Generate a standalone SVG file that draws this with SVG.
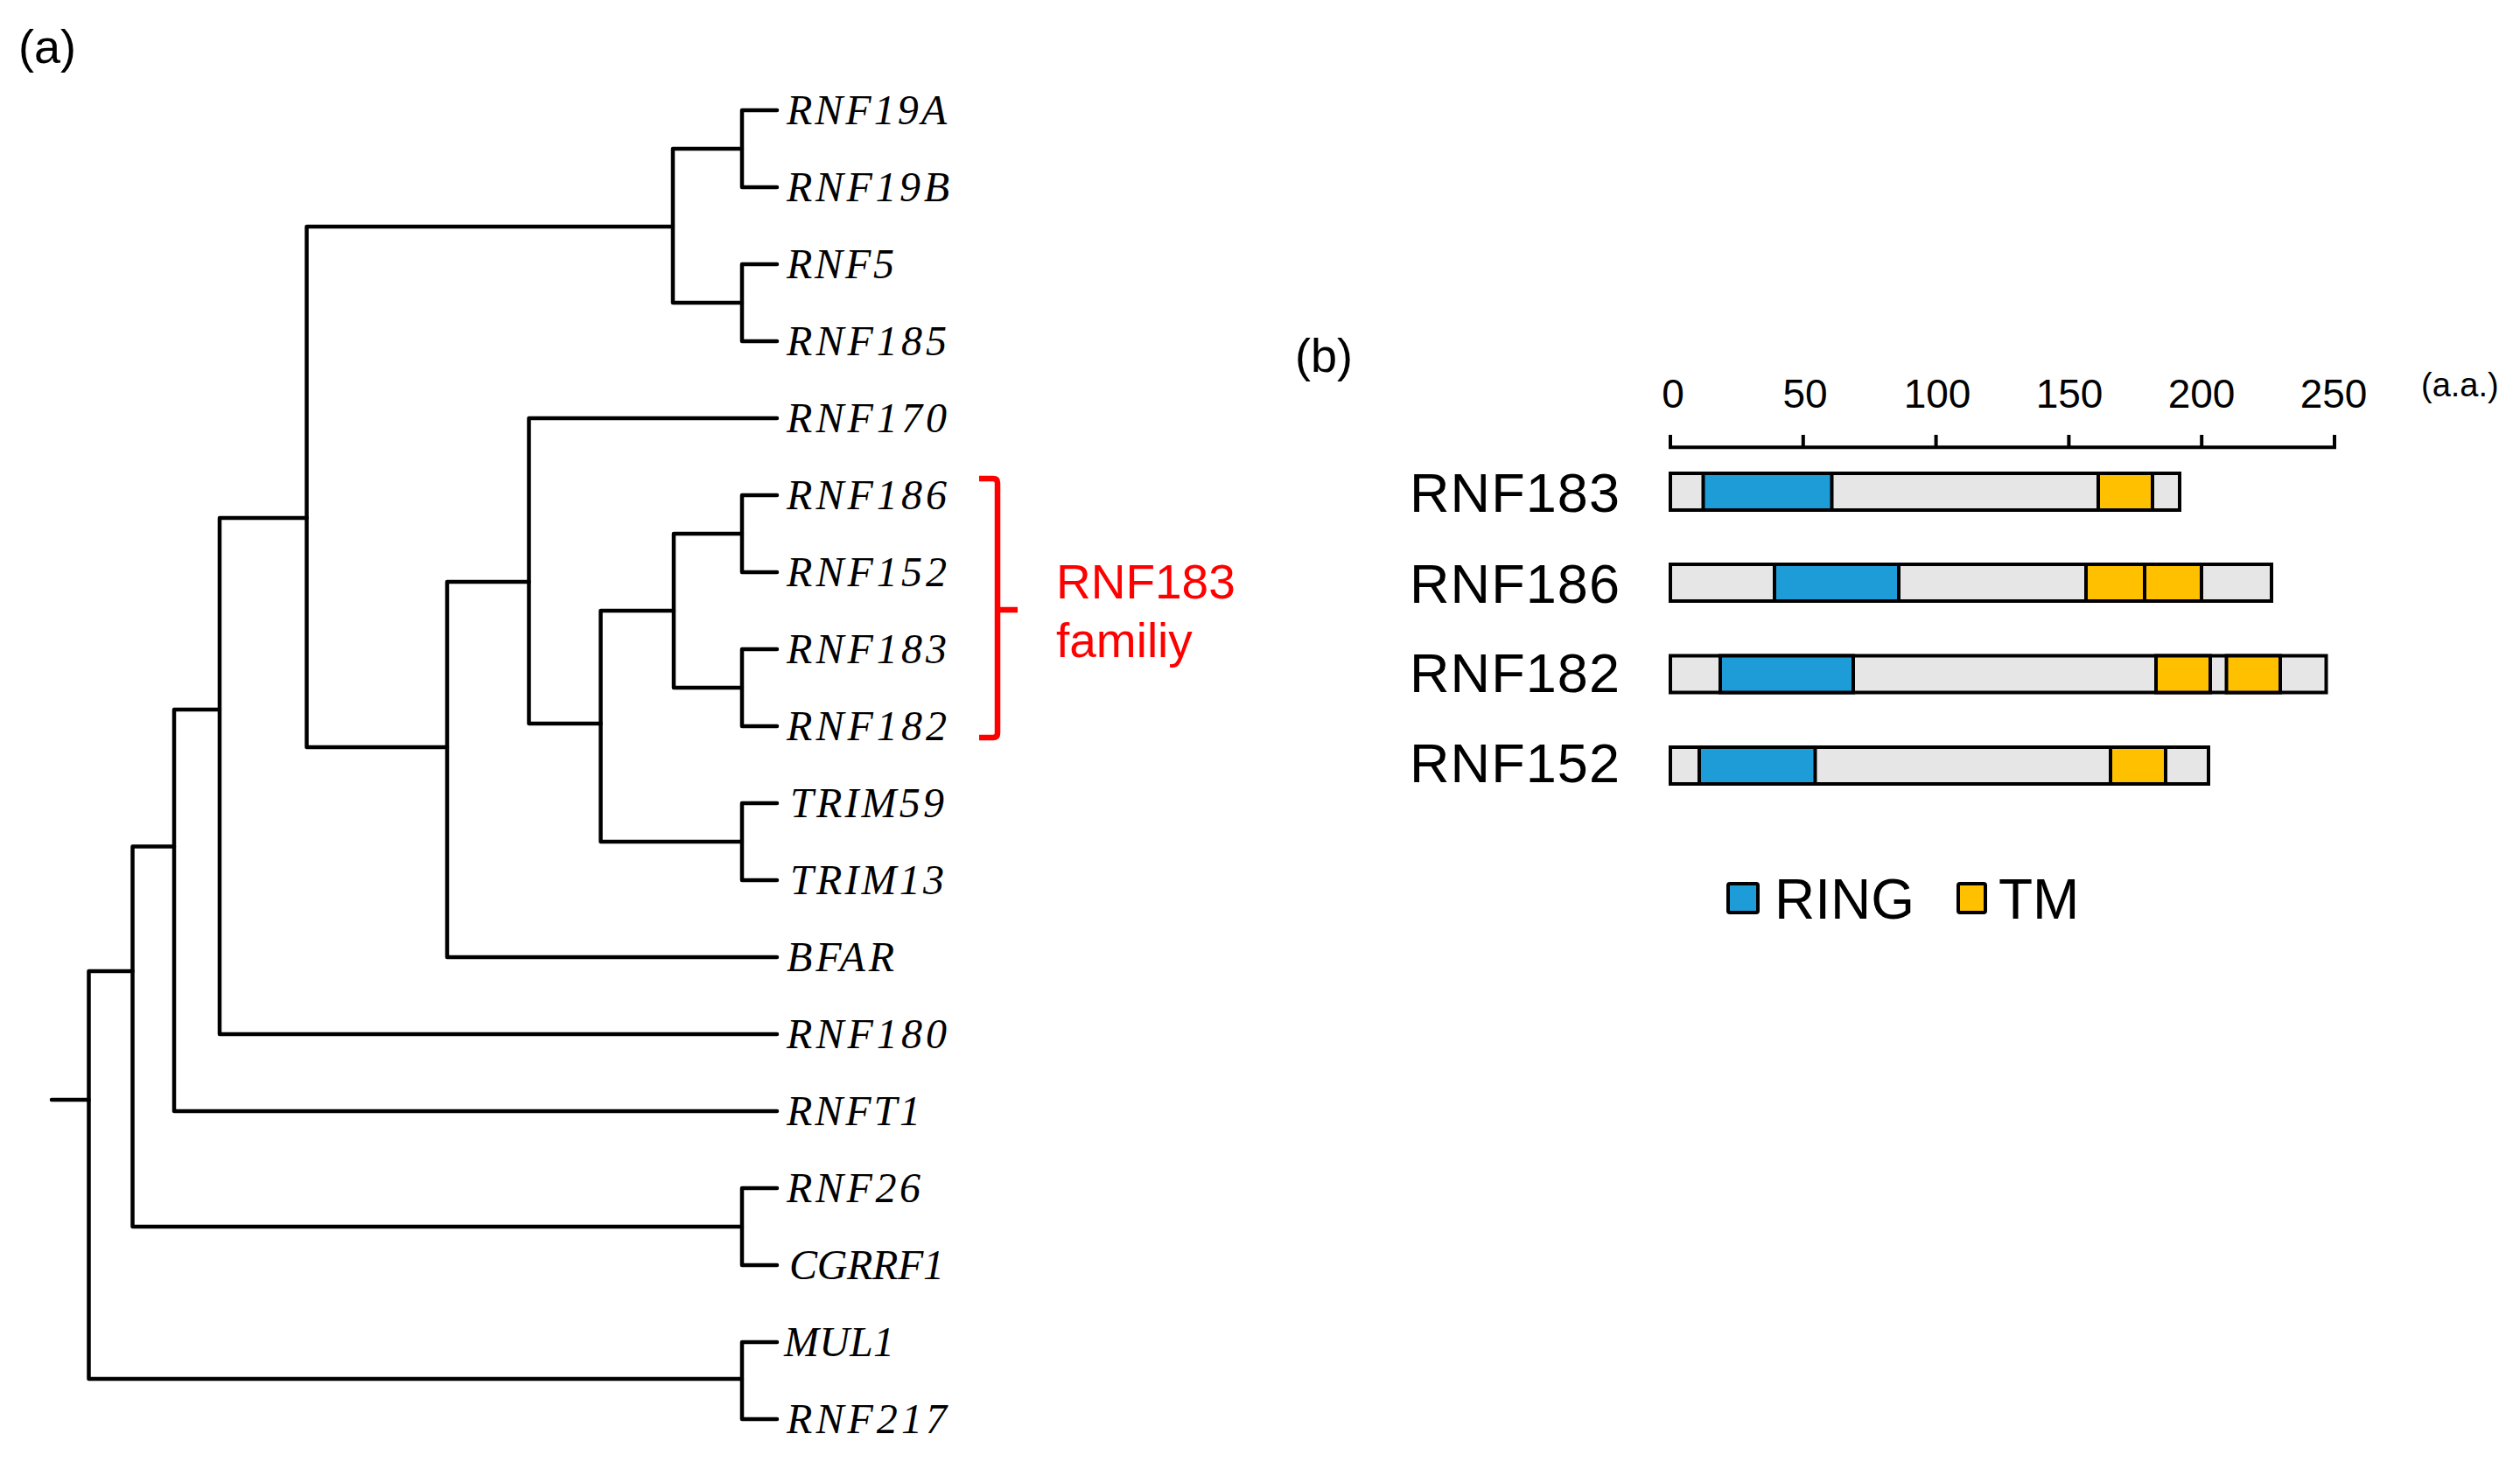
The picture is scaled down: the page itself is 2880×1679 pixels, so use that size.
<svg xmlns="http://www.w3.org/2000/svg" width="2880" height="1679" viewBox="0 0 2880 1679">
<style>
.br{fill:none;stroke:#000;stroke-width:4.5;stroke-linecap:round;stroke-linejoin:round}
.lf{font-family:"Liberation Serif",serif;font-style:italic;font-size:48px;fill:#000}
.sans{font-family:"Liberation Sans",Arial,sans-serif;fill:#000}
.pn{font-size:54px}
.tk{font-size:46px;text-anchor:middle}
.pr{font-size:63px;text-anchor:end}
.lg{font-size:64px}
.bg{fill:#E6E6E6;stroke:#000;stroke-width:4}
.ring{fill:#1E9CD7;stroke:#000;stroke-width:4}
.tm{fill:#FFC000;stroke:#000;stroke-width:4}
.red{fill:none;stroke:#FF0000;stroke-width:6.5;stroke-linejoin:round}
.redt{font-family:"Liberation Sans",Arial,sans-serif;font-size:55px;fill:#FF0000}
</style>
<rect width="2880" height="1679" fill="#fff"/>
<text class="sans pn" x="21" y="72">(a)</text>
<g id="tree-connectors">
<path class="br" d="M888 126H848V214H888"/>
<path class="br" d="M888 302H848V390H888"/>
<path class="br" d="M848 170H769V346H848"/>
<path class="br" d="M888 566H848V654H888"/>
<path class="br" d="M888 742H848V830H888"/>
<path class="br" d="M848 610H770V786H848"/>
<path class="br" d="M888 918H848V1006H888"/>
<path class="br" d="M770 698H686.5V962H848"/>
<path class="br" d="M888 478H604.5V827H686.5"/>
<path class="br" d="M604.5 665H511V1094H888"/>
<path class="br" d="M769 259H350.5V854H511"/>
<path class="br" d="M350.5 592H251V1182H888"/>
<path class="br" d="M251 811H199V1270H888"/>
<path class="br" d="M888 1358H848V1446H888"/>
<path class="br" d="M199 967.5H151.5V1402H848"/>
<path class="br" d="M888 1534H848V1622H888"/>
<path class="br" d="M151.5 1110H101.5V1576H848"/>
<path class="br" d="M59 1257H101.5"/>
</g>
<g id="leaf-RNF19A"><text class="lf" x="899" y="142" textLength="183">RNF19A</text></g>
<g id="leaf-RNF19B"><text class="lf" x="899" y="230" textLength="186">RNF19B</text></g>
<g id="leaf-RNF5"><text class="lf" x="899" y="318" textLength="123">RNF5</text></g>
<g id="leaf-RNF185"><text class="lf" x="899" y="406" textLength="183">RNF185</text></g>
<g id="leaf-RNF170"><text class="lf" x="899" y="494" textLength="183">RNF170</text></g>
<g id="leaf-RNF186"><text class="lf" x="899" y="582" textLength="183">RNF186</text></g>
<g id="leaf-RNF152"><text class="lf" x="899" y="670" textLength="183">RNF152</text></g>
<g id="leaf-RNF183"><text class="lf" x="899" y="758" textLength="183">RNF183</text></g>
<g id="leaf-RNF182"><text class="lf" x="899" y="846" textLength="183">RNF182</text></g>
<g id="leaf-TRIM59"><text class="lf" x="903" y="934" textLength="176">TRIM59</text></g>
<g id="leaf-TRIM13"><text class="lf" x="903" y="1022" textLength="176">TRIM13</text></g>
<g id="leaf-BFAR"><text class="lf" x="899" y="1110" textLength="123">BFAR</text></g>
<g id="leaf-RNF180"><text class="lf" x="899" y="1198" textLength="183">RNF180</text></g>
<g id="leaf-RNFT1"><text class="lf" x="899" y="1286" textLength="153">RNFT1</text></g>
<g id="leaf-RNF26"><text class="lf" x="899" y="1374" textLength="153">RNF26</text></g>
<g id="leaf-CGRRF1"><text class="lf" x="902" y="1462" textLength="177">CGRRF1</text></g>
<g id="leaf-MUL1"><text class="lf" x="896" y="1550" textLength="126">MUL1</text></g>
<g id="leaf-RNF217"><text class="lf" x="899" y="1638" textLength="183">RNF217</text></g>
<g id="family-bracket">
<path class="red" d="M1119 547H1135Q1140 547 1140 552V838Q1140 843 1135 843H1119"/>
<path class="red" d="M1140 697H1163"/>
<text class="redt" x="1207" y="684">RNF183</text>
<text class="redt" x="1207" y="751">familiy</text>
</g>
<text class="sans pn" x="1480" y="425">(b)</text>
<g id="axis">
<path d="M1907 511.3H2670" stroke="#000" stroke-width="4" fill="none"/>
<path d="M1909 497V511M2060.8 497V511M2212.6 497V511M2364.4 497V511M2516.2 497V511M2668 497V511" stroke="#000" stroke-width="4" fill="none"/>
<text class="sans tk" x="1912" y="466">0</text>
<text class="sans tk" x="2063" y="466">50</text>
<text class="sans tk" x="2214" y="466">100</text>
<text class="sans tk" x="2365" y="466">150</text>
<text class="sans tk" x="2516" y="466">200</text>
<text class="sans tk" x="2667" y="466">250</text>
<text class="sans" x="2767" y="453" font-size="38">(a.a.)</text>
</g>
<g id="protein-RNF183">
<text class="sans pr" x="1851" y="585" textLength="240">RNF183</text>
<rect class="bg" x="1909" y="541" width="582" height="42"/>
<rect class="ring" x="1946.5" y="541" width="147" height="42"/>
<rect class="tm" x="2398" y="541" width="62" height="42"/>
</g>
<g id="protein-RNF186">
<text class="sans pr" x="1851" y="689" textLength="240">RNF186</text>
<rect class="bg" x="1909" y="645" width="687" height="42"/>
<rect class="ring" x="2028" y="645" width="142" height="42"/>
<rect class="tm" x="2384" y="645" width="67" height="42"/>
<rect class="tm" x="2451" y="645" width="65" height="42"/>
</g>
<g id="protein-RNF182">
<text class="sans pr" x="1851" y="791" textLength="240">RNF182</text>
<rect class="bg" x="1909" y="749.5" width="749.5" height="42"/>
<rect class="ring" x="1966" y="749.5" width="152" height="42"/>
<rect class="tm" x="2464" y="749.5" width="62" height="42"/>
<rect class="tm" x="2544.5" y="749.5" width="61.5" height="42"/>
</g>
<g id="protein-RNF152">
<text class="sans pr" x="1851" y="894" textLength="240">RNF152</text>
<rect class="bg" x="1909" y="854" width="615" height="42"/>
<rect class="ring" x="1942" y="854" width="132.5" height="42"/>
<rect class="tm" x="2412" y="854" width="63" height="42"/>
</g>
<g id="legend">
<rect class="ring" x="1975" y="1010" width="34" height="33" rx="2"/>
<text class="sans lg" x="2028" y="1050">RING</text>
<rect class="tm" x="2238" y="1010" width="31" height="33" rx="2"/>
<text class="sans lg" x="2284" y="1050">TM</text>
</g>
</svg>
